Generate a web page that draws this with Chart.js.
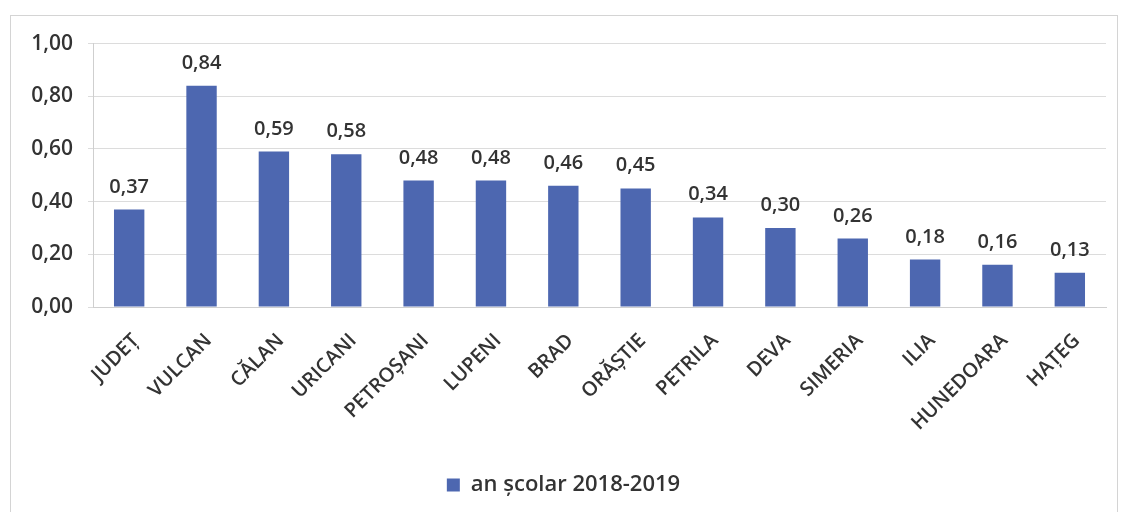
<!DOCTYPE html>
<html>
<head>
<meta charset="utf-8">
<script src="https://cdn.jsdelivr.net/npm/chart.js@4"></script>
<style>
    body { margin: 0; background: #fff; }
    .frame {
        position: absolute; left: 10px; top: 15px;
        width: 1106px; height: 496px;
        border: 1px solid #d4d4d4; border-bottom: none;
    }
    canvas { display: block; }
</style>
</head>
<body>
<div class="frame"><canvas id="chart" width="1106" height="496"></canvas></div>
<script>
// ── Data ──
const categories = ["JUDEȚ", "VULCAN", "CĂLAN", "URICANI", "PETROȘANI", "LUPENI", "BRAD",
    "ORĂȘTIE", "PETRILA", "DEVA", "SIMERIA", "ILIA", "HUNEDOARA", "HAȚEG"];
const values = [0.37, 0.84, 0.59, 0.58, 0.48, 0.48, 0.46, 0.45, 0.34, 0.30, 0.26, 0.18, 0.16, 0.13];
const yTicks = [0, 0.2, 0.4, 0.6, 0.8, 1.0];
const seriesName = "an școlar 2018-2019";

const fmt = function (v) { return v.toFixed(2).replace(".", ","); };
const FONT = "'Open Sans', sans-serif";
const TEXT = "#333333";

// value labels above bars
const barLabels = {
    id: "barLabels",
    afterDatasetsDraw: function (chart) {
        var ctx = chart.ctx;
        var meta = chart.getDatasetMeta(0);
        ctx.save();
        ctx.font = "600 20px " + FONT;
        ctx.fillStyle = TEXT;
        ctx.textAlign = "center";
        ctx.textBaseline = "alphabetic";
        meta.data.forEach(function (bar, i) {
            ctx.fillText(fmt(values[i]), bar.x, bar.y - 17);
        });
        ctx.restore();
    }
};

new Chart(document.getElementById("chart"), {
    type: "bar",
    data: {
        labels: categories,
        datasets: [{
            label: seriesName,
            data: values,
            backgroundColor: "#4d67b0",
            barPercentage: 0.42,
            categoryPercentage: 1.0
        }]
    },
    options: {
        responsive: false,
        animation: false,
        layout: { padding: { top: 20, right: 11, left: 10, bottom: 6 } },
        scales: {
            y: {
                min: 0,
                max: 1,
                afterBuildTicks: function (axis) {
                    axis.ticks = yTicks.map(function (v) { return { value: v }; });
                },
                afterFit: function (axis) { axis.width = 72; },
                ticks: {
                    callback: function (v) { return fmt(v); },
                    font: { family: FONT, size: 21, weight: "600" },
                    color: TEXT,
                    padding: 15
                },
                grid: { color: "#dcdcdc", tickLength: 5 },
                border: { color: "#cfcfcf" }
            },
            x: {
                afterFit: function (axis) { axis.height = 137; },
                ticks: {
                    minRotation: 45,
                    maxRotation: 45,
                    labelOffset: 7,
                    padding: 14,
                    font: { family: FONT, size: 20, weight: "600" },
                    color: TEXT
                },
                grid: { display: false },
                border: { color: "#cfcfcf" }
            }
        },
        plugins: {
            legend: {
                position: "bottom",
                labels: {
                    boxWidth: 13,
                    boxHeight: 13,
                    padding: 30,
                    font: { family: FONT, size: 22, weight: "600" },
                    color: TEXT
                }
            },
            tooltip: { enabled: false }
        }
    },
    plugins: [barLabels]
});
</script>
</body>
</html>
